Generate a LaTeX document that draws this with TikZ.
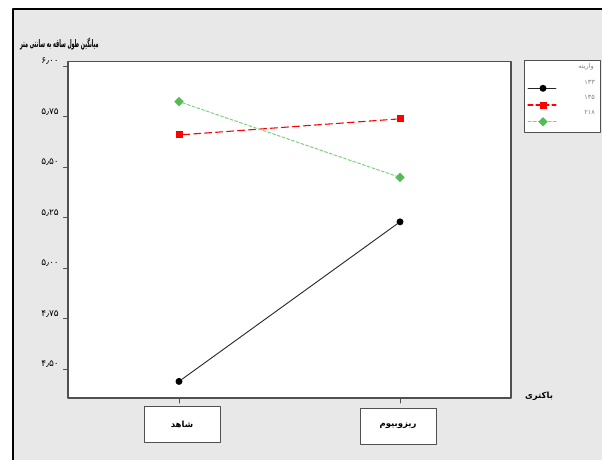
\documentclass[tikz,border=0pt]{standalone}
\usepackage{fontspec}
\usetikzlibrary{shapes.geometric}
\newfontfamily\arabicfont[Script=Arabic]{DejaVu Sans}
\TeXXeTstate=1
\definecolor{panel}{HTML}{E8E8E8}
\definecolor{axisgray}{HTML}{505050}
\definecolor{vred}{HTML}{FF0000}
\definecolor{vgreen}{HTML}{55BB55}
\definecolor{lgreen}{HTML}{80D080}
\newcommand{\yv}[1]{268.3-202*(#1-5)}
\tikzset{
  mk133/.style={circle, fill=black, inner sep=0pt, minimum size=7pt},
  mk135/.style={rectangle, fill=vred, inner sep=0pt, minimum size=7pt},
  mk218/.style={diamond, fill=vgreen, inner sep=0pt, minimum size=9.5pt},
  l133/.style={black!85, line width=0.9pt},
  l135/.style={vred, line width=1.1pt, dash pattern=on 7pt off 4pt},
  l218/.style={lgreen, line width=1pt, dash pattern=on 3pt off 2pt},
  catbox/.style={draw=axisgray, fill=white, line width=0.9pt, minimum width=76pt, minimum height=36pt, inner sep=0pt, font=\arabicfont\bfseries\fontsize{8.5}{9}\selectfont},
  ylab/.style={anchor=east, inner sep=0pt, font=\arabicfont\fontsize{9}{10}\selectfont},
  legtext/.style={anchor=east, inner sep=0pt, text=black!50, font=\arabicfont\fontsize{6.5}{7}\selectfont},
}
\begin{document}
\begin{tikzpicture}[x=1pt, y=-1pt, line cap=round, line join=round]
\useasboundingbox (0,0) rectangle (602,460);
\fill[panel] (13,9) rectangle (602,460);
\draw[line width=2pt] (13,460)--(13,9)--(602,9);
\draw[axisgray, fill=white, line width=1.2pt] (68,61.5) rectangle (511,398);
\foreach \v/\lab in {6/۶٫۰۰, 5.75/۵٫۷۵, 5.5/۵٫۵۰, 5.25/۵٫۲۵, 5/۵٫۰۰, 4.75/۴٫۷۵, 4.5/۴٫۵۰}
  {\draw[axisgray, line width=1pt] (63.5,{\yv{\v}})--(68,{\yv{\v}});
   \node[ylab] at (59,{\yv{\v}-5}) {\lab};}
\draw[axisgray, line width=1pt] (179,398)--(179,403) (400,398)--(400,403);
\node[font=\arabicfont\bfseries\fontsize{10.5}{11}\selectfont, anchor=west, inner sep=0pt] (ytitle) at (20,44) {\scalebox{0.46}[1]{\beginR میانگین طول ساقه به سانتی متر\endR}};
\node[mk133] (c1) at (179,{\yv{4.44}}) {};
\node[mk133] (c2) at (400,{\yv{5.23}}) {};
\node[mk135] (r1) at (179,{\yv{5.66}}) {};
\node[mk135] (r2) at (400,{\yv{5.74}}) {};
\node[mk218] (g1) at (179,{\yv{5.825}}) {};
\node[mk218] (g2) at (400,{\yv{5.45}}) {};
\draw[l133] (c1)--(c2);
\draw[l135] (r1)--(r2);
\draw[l218] (g1)--(g2);
\node[catbox] (shahed) at (182,424) {\beginR شاهد\endR};
\node[catbox] (rhizo) at (398,426) {\beginR ریزوبیوم\endR};
\node[font=\arabicfont\bfseries\fontsize{8.5}{9}\selectfont, inner sep=0pt] (bact) at (539,396) {\beginR باکتری\endR};
\draw[axisgray, fill=white, line width=1pt] (524,61) rectangle (600,132);
\node[legtext] (legtitle) at (594,67) {\beginR واریته\endR};
\node[legtext] (t133) at (595,82) {۱۳۳};
\node[legtext] (t135) at (595,97.5) {۱۳۵};
\node[legtext] (t218) at (595,112.5) {۲۱۸};
\coordinate (a133) at (528,88.3); \coordinate (b133) at (556,88.3);
\coordinate (a135) at (528,105); \coordinate (b135) at (556,105);
\coordinate (a218) at (528,121.7); \coordinate (b218) at (556,121.7);
\draw[l133] (a133)--(b133);
\draw[l135, dash pattern=on 5pt off 3pt] (a135)--(b135);
\draw[l218] (a218)--(b218);
\node[mk133] (m133) at (543,88.3) {};
\node[mk135] (m135) at (543,105) {};
\node[mk218] (m218) at (543,121.7) {};
\end{tikzpicture}
\end{document}
